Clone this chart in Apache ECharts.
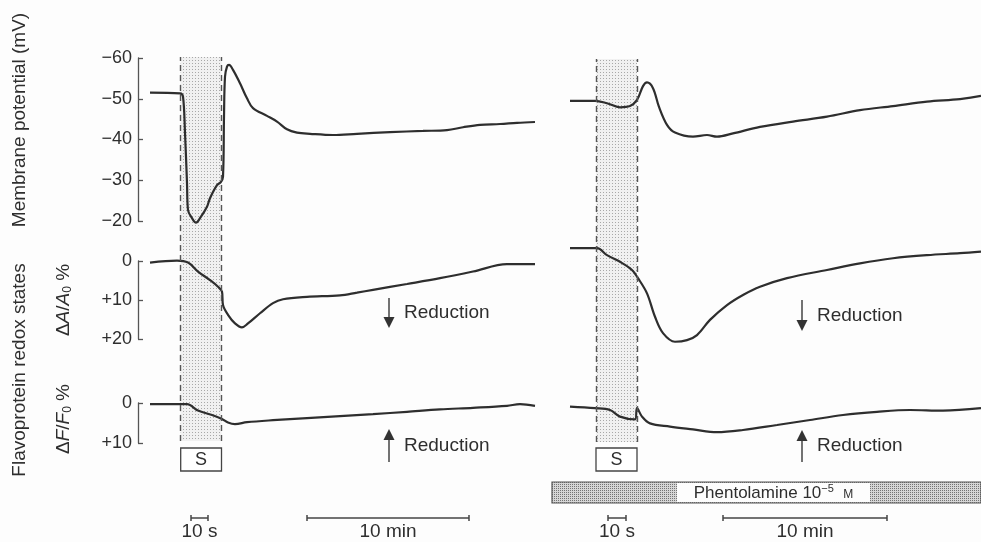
<!DOCTYPE html>
<html lang="en">
<head>
<meta charset="UTF-8" />
<title>Membrane potential and flavoprotein redox states</title>
<style>
  html, body { margin: 0; padding: 0; background: #fff; }
  #main { width: 981px; height: 542px; }
</style>
</head>
<body>
<script src="https://cdn.jsdelivr.net/npm/echarts@6/dist/echarts.min.js"></script>
<div id="main"></div>
<script>
// time is in chart units: compressed outside the stimulus, expanded inside it
// (10 s bar ~ 17 units, 10 min bar ~ 162 units)

// control (left)
const ctrlStim = [42.7, 83.5]
const ctrlPotT = [12, 42, 45, 47, 49, 50, 54, 58, 62, 69, 72, 79, 83, 85, 86, 87, 89, 91, 95, 102, 109, 115, 129, 139, 149, 159, 172, 195, 219, 252, 285, 309, 325, 342, 362, 379, 397]
const ctrlPotV = [-51.5, -51.3, -50.5, -41.6, -29.3, -22.7, -20.7, -19.6, -20.7, -23.5, -25.6, -28.8, -29.6, -30.9, -45.6, -55.4, -57.9, -58.3, -57.1, -53.8, -50.1, -47.7, -45.8, -44.4, -42.5, -41.7, -41.4, -41.1, -41.4, -41.8, -42.1, -42.3, -43, -43.6, -43.8, -44.1, -44.3]
const ctrlAbsT = [12, 39, 50, 60, 72, 80, 84, 85, 90, 97, 104, 110, 122, 135, 145, 169, 202, 219, 235, 269, 302, 335, 369, 397]
const ctrlAbsV = [0.4, -0.1, 0.4, 2.7, 4.9, 6.6, 7.9, 11.3, 13.8, 16, 17, 16, 13.4, 10.8, 9.8, 9.2, 8.8, 8.1, 7.4, 5.9, 4.4, 2.7, 0.8, 0.8]
const ctrlFluT = [12, 49, 60, 74, 84, 90, 97, 109, 135, 169, 202, 235, 269, 302, 335, 369, 382, 397]
const ctrlFluV = [0.3, 0.3, 1.9, 3, 4, 4.9, 5.3, 4.8, 4.3, 3.8, 3.3, 2.8, 2.2, 1.6, 1.2, 0.7, 0.3, 0.7]

// phentolamine (right)
const phenStim = [38, 79]
const phenPotT = [12, 37, 49, 62, 72, 79, 85, 89, 95, 101, 109, 117, 135, 149, 159, 175, 202, 235, 269, 302, 335, 369, 402, 423]
const phenPotV = [-49.5, -49.5, -48.9, -47.9, -48.2, -49.7, -53.1, -54, -52.6, -48, -43.6, -41.7, -40.7, -41.1, -40.7, -41.5, -43.1, -44.4, -45.6, -47.2, -48.2, -49.3, -49.9, -50.7]
const phenAbsT = [12, 39, 49, 62, 74, 80, 89, 97, 105, 117, 129, 139, 152, 169, 185, 202, 229, 269, 302, 335, 369, 402, 423]
const phenAbsV = [-3.3, -3.3, -1.5, 0.2, 2.3, 4.4, 8.3, 14.3, 18.5, 20.7, 20.3, 19, 15.1, 11.3, 8.7, 6.6, 4.4, 2.3, 0.6, -0.7, -1.5, -2, -2.4]
const phenFluT = [12, 37, 52, 62, 77, 79, 84, 92, 112, 135, 159, 185, 219, 252, 285, 319, 352, 385, 423]
const phenFluV = [0.9, 1.3, 1.75, 3.4, 4.1, 1.3, 3.4, 5.1, 5.9, 6.6, 7.3, 6.75, 5.5, 4.25, 3, 2.2, 1.75, 1.9, 1.3]

// axes
const potTicks = [-60, -50, -40, -30, -20]
const absTicks = [0, 10, 20]
const fluTicks = [0, 10]

// annotation positions in time units
const ctrlSecBar = [53, 70]
const ctrlMinBar = [169, 331]
const phenSecBar = [50, 68]
const phenMinBar = [165, 329]
const phenDrug = [-6, 423]
const phenDrugLabel = [119, 312]
const ctrlArrowT = 251
const phenArrowT = 244

const ink = '#2e2e2e'
const font = 'Liberation Sans, Arial, sans-serif'

function stipple(bg, dot, step) {
  const c = document.createElement('canvas')
  c.width = step; c.height = step
  const g = c.getContext('2d')
  g.fillStyle = bg; g.fillRect(0, 0, step, step)
  g.fillStyle = dot; g.fillRect(0, 0, 1, 1)
  return c
}
const bandFill = { image: stipple('#f1f1f1', '#a8a8a8', 3), repeat: 'repeat' }
const drugFill = { image: stipple('#d6d6d6', '#747474', 2), repeat: 'repeat' }

const zip = (t, v) => t.map((x, i) => [x, v[i]])

const chart = echarts.init(document.getElementById('main'))

const gridL = 138, gridR = 558
const rows = [
  { top: 58, height: 163, min: -60, max: -20, ticks: potTicks, fmt: v => '\u2212' + Math.abs(v) },
  { top: 261, height: 78, min: 0, max: 20, ticks: absTicks, fmt: v => (v === 0 ? '0' : '+' + v) },
  { top: 403, height: 40, min: 0, max: 10, ticks: fluTicks, fmt: v => (v === 0 ? '0' : '+' + v) }
]

const grid = [], xAxis = [], yAxis = []
;[[gridL, 400, true], [gridR, 423, false]].forEach(([left, width, showAxis]) => {
  rows.forEach(r => {
    grid.push({ left, width, top: r.top, height: r.height, outerBoundsMode: 'none' })
    xAxis.push({ gridIndex: grid.length - 1, type: 'value', min: 0, max: width, show: false })
    yAxis.push({
      gridIndex: grid.length - 1, type: 'value', min: r.min, max: r.max, interval: 10, inverse: true,
      show: showAxis,
      axisLine: { show: true, lineStyle: { color: '#555', width: 1.3 } },
      axisTick: { show: true, inside: true, length: 5, lineStyle: { color: '#555', width: 1.3 } },
      axisLabel: { formatter: r.fmt, fontSize: 18, color: ink, fontFamily: font, margin: 6 },
      splitLine: { show: false }
    })
  })
})
// overlay grids for the stimulus band, spanning all three rows
grid.push({ left: gridL, width: 400, top: 57, height: 384, outerBoundsMode: 'none' })
xAxis.push({ gridIndex: 6, type: 'value', min: 0, max: 400, show: false })
yAxis.push({ gridIndex: 6, type: 'value', min: 0, max: 1, show: false })
grid.push({ left: gridR, width: 423, top: 59, height: 383, outerBoundsMode: 'none' })
xAxis.push({ gridIndex: 7, type: 'value', min: 0, max: 423, show: false })
yAxis.push({ gridIndex: 7, type: 'value', min: 0, max: 1, show: false })

function band(idx, stim) {
  return {
    type: 'line', xAxisIndex: idx, yAxisIndex: idx, data: [], z: 1, silent: true,
    markArea: { silent: true, itemStyle: { color: bandFill }, data: [[{ xAxis: stim[0] }, { xAxis: stim[1] }]] },
    markLine: {
      silent: true, symbol: 'none', label: { show: false },
      lineStyle: { color: '#555', width: 1.4, type: [6, 4] },
      data: [{ xAxis: stim[0] }, { xAxis: stim[1] }]
    }
  }
}
function trace(idx, t, v) {
  return {
    type: 'line', xAxisIndex: idx, yAxisIndex: idx, data: zip(t, v), z: 3,
    showSymbol: false, symbol: 'none', clip: false, smooth: 0.35,
    lineStyle: { color: ink, width: 2.2 }
  }
}

chart.setOption({
  animation: false,
  backgroundColor: '#fdfdfd',
  grid, xAxis, yAxis,
  series: [
    band(6, ctrlStim), band(7, phenStim),
    trace(0, ctrlPotT, ctrlPotV), trace(1, ctrlAbsT, ctrlAbsV), trace(2, ctrlFluT, ctrlFluV),
    trace(3, phenPotT, phenPotV), trace(4, phenAbsT, phenAbsV), trace(5, phenFluT, phenFluV)
  ]
})

const px = (axis, v) => chart.convertToPixel({ xAxisIndex: axis }, v)

function sBox(axis, stim) {
  const x0 = px(axis, stim[0]), x1 = px(axis, stim[1])
  return [
    { type: 'rect', shape: { x: x0, y: 448, width: x1 - x0, height: 23 }, style: { fill: '#fff', stroke: '#444', lineWidth: 1.3 } },
    { type: 'text', x: (x0 + x1) / 2, y: 460, style: { text: 'S', font: '18px ' + font, fill: ink, align: 'center', verticalAlign: 'middle' } }
  ]
}
function scaleBar(axis, r, label) {
  const x0 = px(axis, r[0]), x1 = px(axis, r[1]), y = 518
  return [
    { type: 'line', shape: { x1: x0, y1: y, x2: x1, y2: y }, style: { stroke: '#444', lineWidth: 1.5 } },
    { type: 'line', shape: { x1: x0, y1: y - 3, x2: x0, y2: y + 3 }, style: { stroke: '#444', lineWidth: 1.5 } },
    { type: 'line', shape: { x1: x1, y1: y - 3, x2: x1, y2: y + 3 }, style: { stroke: '#444', lineWidth: 1.5 } },
    { type: 'text', x: (x0 + x1) / 2, y: 532, style: { text: label, font: '19px ' + font, fill: ink, align: 'center', verticalAlign: 'middle' } }
  ]
}
function arrow(axis, t, yTail, yTip) {
  const x = px(axis, t), dir = yTip > yTail ? 1 : -1
  const base = yTip - dir * 11
  return [
    { type: 'line', shape: { x1: x, y1: yTail, x2: x, y2: base }, style: { stroke: '#444', lineWidth: 1.5 } },
    { type: 'polygon', shape: { points: [[x - 5.5, base], [x + 5.5, base], [x, yTip]] }, style: { fill: '#333' } },
    { type: 'text', x: x + 15, y: (yTail + yTip) / 2, style: { text: 'Reduction', font: '19px ' + font, fill: ink, align: 'left', verticalAlign: 'middle' } }
  ]
}
function vText(x, y, text, rich) {
  return { type: 'text', x, y, rotation: Math.PI / 2, style: { text, rich, font: '19px ' + font, fill: ink, align: 'center', verticalAlign: 'middle' } }
}

const richRatio = {
  i: { fontStyle: 'italic', fontSize: 19, fontFamily: font, fill: ink },
  sub: { fontSize: 12, fontFamily: font, fill: ink, padding: [8, 0, 0, 0] }
}

const d0 = px(7, phenDrug[0]), d1 = px(7, phenDrug[1])
const l0 = px(7, phenDrugLabel[0]), l1 = px(7, phenDrugLabel[1])

chart.setOption({
  graphic: {
    elements: [
      vText(20, 120, 'Membrane potential (mV)'),
      vText(20, 370, 'Flavoprotein redox states'),
      vText(64, 300, '\u0394{i|A}/{i|A}{sub|0} %', richRatio),
      vText(64, 419, '\u0394{i|F}/{i|F}{sub|0} %', richRatio),
      ...sBox(6, ctrlStim), ...sBox(7, phenStim),
      ...scaleBar(6, ctrlSecBar, '10 s'), ...scaleBar(6, ctrlMinBar, '10 min'),
      ...scaleBar(7, phenSecBar, '10 s'), ...scaleBar(7, phenMinBar, '10 min'),
      ...arrow(6, ctrlArrowT, 298, 328), ...arrow(6, ctrlArrowT, 462, 429),
      ...arrow(7, phenArrowT, 300, 331), ...arrow(7, phenArrowT, 462, 430),
      { type: 'rect', shape: { x: d0, y: 482, width: d1 - d0, height: 21 }, style: { fill: drugFill, stroke: '#555', lineWidth: 1.2 } },
      { type: 'rect', shape: { x: l0, y: 483, width: l1 - l0, height: 19 }, style: { fill: '#fdfdfd' } },
      {
        type: 'text', x: (l0 + l1) / 2, y: 493,
        style: {
          text: 'Phentolamine 10{sup|\u22125}  {sc|M}', font: '17px ' + font, fill: ink, align: 'center', verticalAlign: 'middle',
          rich: {
            sup: { fontSize: 11, fontFamily: font, fill: ink, padding: [0, 0, 9, 0] },
            sc: { fontSize: 12, fontFamily: font, fill: ink, padding: [3, 0, 0, 0] }
          }
        }
      }
    ]
  }
})
</script>
</body>
</html>
